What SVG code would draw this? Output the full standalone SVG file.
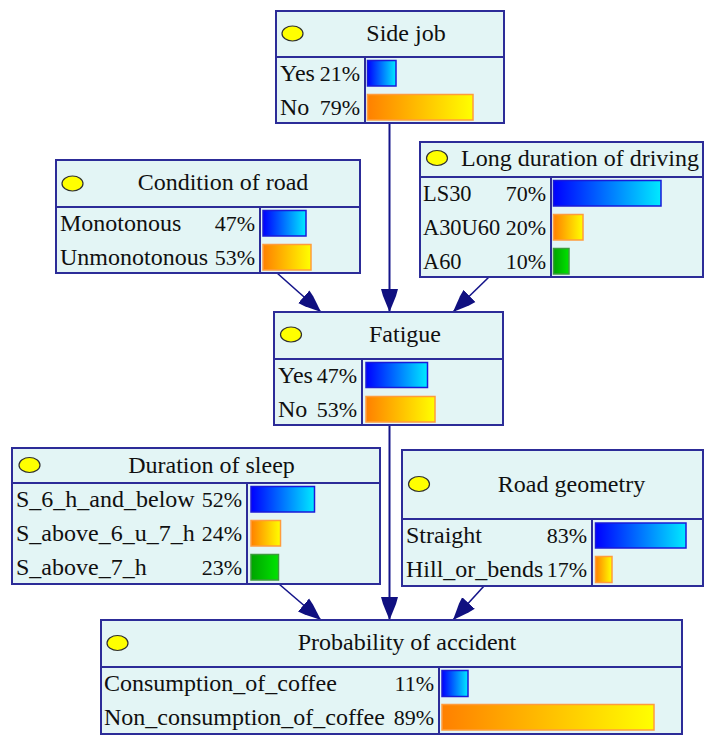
<svg xmlns="http://www.w3.org/2000/svg" width="705" height="735" viewBox="0 0 705 735">
  <defs>
    <linearGradient id="gBlue" x1="0" y1="0" x2="1" y2="0">
      <stop offset="0" stop-color="#0000ff"/>
      <stop offset="1" stop-color="#00eaff"/>
    </linearGradient>
    <linearGradient id="gOrange" x1="0" y1="0" x2="1" y2="0">
      <stop offset="0" stop-color="#ff8000"/>
      <stop offset="1" stop-color="#ffff00"/>
    </linearGradient>
    <linearGradient id="gGreen" x1="0" y1="0" x2="1" y2="0">
      <stop offset="0" stop-color="#00a400"/>
      <stop offset="1" stop-color="#00e400"/>
    </linearGradient>
    <marker id="arrow" markerUnits="userSpaceOnUse" markerWidth="24" markerHeight="18" refX="23" refY="8.5" orient="auto" viewBox="0 0 24 17">
      <path d="M0,0 L7,2 L23,8.5 L7,15 L0,17 Z" fill="#101080"/>
    </marker>
    <style>
      .box { fill: #e3f5f5; stroke: #2c2c98; stroke-width: 2; }
      .sep { stroke: #2c2c98; stroke-width: 2; fill: none; }
      .dot { fill: #ffff00; stroke: #303030; stroke-width: 1.2; }
      text { font-family: "Liberation Serif", "Times New Roman", serif; font-size: 24px; fill: #101010; }
      .title { text-anchor: middle; }
      .pct { text-anchor: end; font-size: 22px; }
      .num { font-size: 22.4px; }
      .blue { fill: url(#gBlue); stroke: #1a1ad8; stroke-width: 1.5; }
      .orange { fill: url(#gOrange); stroke: #ff9c3c; stroke-width: 1.5; }
      .green { fill: url(#gGreen); stroke: #3c9c3c; stroke-width: 1.5; }
      .edge { stroke: #14148a; stroke-width: 1.6; fill: none; marker-end: url(#arrow); }
      .edge.v { stroke-width: 2; }
    </style>
  </defs>

  <!-- connectors -->
  <g id="connectors">
    <line class="edge v" x1="389.5" y1="123" x2="389.5" y2="312"/>
    <line class="edge" x1="277" y1="273" x2="321" y2="312"/>
    <line class="edge" x1="489" y1="277" x2="453" y2="312"/>
    <line class="edge v" x1="389.5" y1="425" x2="389.5" y2="620"/>
    <line class="edge" x1="279" y1="584" x2="321" y2="620"/>
    <line class="edge" x1="484" y1="586" x2="453" y2="620"/>
  </g>

  <!-- Side job -->
  <g id="side-job">
    <rect class="box" x="276" y="11" width="228" height="112"/>
    <line class="sep" x1="276" y1="57" x2="504" y2="57"/>
    <line class="sep" x1="365" y1="57" x2="365" y2="123"/>
    <ellipse class="dot" cx="292.5" cy="33.5" rx="10.5" ry="7.5"/>
    <text class="title" x="406" y="41">Side job</text>
    <text x="280" y="81">Yes</text><text class="pct" x="360" y="81">21%</text>
    <text x="280" y="115">No</text><text class="pct" x="360" y="115">79%</text>
    <rect class="blue" x="367.5" y="60.5" width="28.5" height="25.5"/>
    <rect class="orange" x="367.5" y="94.5" width="105.5" height="25.5"/>
  </g>

  <!-- Condition of road -->
  <g id="condition-of-road">
    <rect class="box" x="56" y="160" width="304" height="113"/>
    <line class="sep" x1="56" y1="207" x2="360" y2="207"/>
    <line class="sep" x1="260" y1="207" x2="260" y2="273"/>
    <ellipse class="dot" cx="72.5" cy="183.5" rx="10.5" ry="7.5"/>
    <text class="title" x="223" y="190">Condition of road</text>
    <text x="60" y="231">Monotonous</text><text class="pct" x="255" y="231">47%</text>
    <text x="60" y="265">Unmonotonous</text><text class="pct" x="255" y="265">53%</text>
    <rect class="blue" x="263" y="210.5" width="43" height="25.5"/>
    <rect class="orange" x="263" y="244.5" width="48" height="25.5"/>
  </g>

  <!-- Long duration of driving -->
  <g id="long-duration-of-driving">
    <rect class="box" x="420" y="142" width="283" height="135"/>
    <line class="sep" x1="420" y1="177" x2="703" y2="177"/>
    <line class="sep" x1="551" y1="177" x2="551" y2="277"/>
    <ellipse class="dot" cx="437" cy="158" rx="10.5" ry="7.5"/>
    <text class="title" x="580" y="166">Long duration of driving</text>
    <text class="num" x="423" y="201">LS30</text><text class="pct" x="546" y="201">70%</text>
    <text class="num" x="423" y="235">A30U60</text><text class="pct" x="546" y="235">20%</text>
    <text class="num" x="423" y="269">A60</text><text class="pct" x="546" y="269">10%</text>
    <rect class="blue" x="553.5" y="180.5" width="107.5" height="25.5"/>
    <rect class="orange" x="553.5" y="214.5" width="29.5" height="25.5"/>
    <rect class="green" x="553.5" y="248.5" width="15.5" height="25.5"/>
  </g>

  <!-- Fatigue -->
  <g id="fatigue">
    <rect class="box" x="274" y="312" width="229" height="113"/>
    <line class="sep" x1="274" y1="359" x2="503" y2="359"/>
    <line class="sep" x1="362" y1="359" x2="362" y2="425"/>
    <ellipse class="dot" cx="291" cy="334.5" rx="10.5" ry="7.5"/>
    <text class="title" x="405" y="342">Fatigue</text>
    <text x="278" y="383">Yes</text><text class="pct" x="357" y="383">47%</text>
    <text x="278" y="417">No</text><text class="pct" x="357" y="417">53%</text>
    <rect class="blue" x="366" y="362.5" width="61.5" height="25"/>
    <rect class="orange" x="366" y="396.5" width="69" height="25.5"/>
  </g>

  <!-- Duration of sleep -->
  <g id="duration-of-sleep">
    <rect class="box" x="12" y="448" width="368" height="136"/>
    <line class="sep" x1="12" y1="483" x2="380" y2="483"/>
    <line class="sep" x1="247" y1="483" x2="247" y2="584"/>
    <ellipse class="dot" cx="29.5" cy="465" rx="10.5" ry="7.5"/>
    <text class="title" x="211.5" y="473">Duration of sleep</text>
    <text x="16" y="507">S_6_h_and_below</text><text class="pct" x="242" y="507">52%</text>
    <text x="16" y="541">S_above_6_u_7_h</text><text class="pct" x="242" y="541">24%</text>
    <text x="16" y="575">S_above_7_h</text><text class="pct" x="242" y="575">23%</text>
    <rect class="blue" x="251" y="486.5" width="63.5" height="25.5"/>
    <rect class="orange" x="251" y="520.5" width="29.5" height="25.5"/>
    <rect class="green" x="251" y="554.5" width="27.5" height="25.5"/>
  </g>

  <!-- Road geometry -->
  <g id="road-geometry">
    <rect class="box" x="402" y="450" width="301" height="136"/>
    <line class="sep" x1="402" y1="519" x2="703" y2="519"/>
    <line class="sep" x1="592" y1="519" x2="592" y2="586"/>
    <ellipse class="dot" cx="419" cy="484" rx="10.5" ry="7.5"/>
    <text class="title" x="571.5" y="492">Road geometry</text>
    <text x="406" y="543">Straight</text><text class="pct" x="587" y="543">83%</text>
    <text x="406" y="577">Hill_or_bends</text><text class="pct" x="587" y="577">17%</text>
    <rect class="blue" x="595.5" y="523" width="90.5" height="25"/>
    <rect class="orange" x="595.5" y="556.5" width="16.5" height="26"/>
  </g>

  <!-- Probability of accident -->
  <g id="probability-of-accident">
    <rect class="box" x="101" y="620" width="581" height="114"/>
    <line class="sep" x1="101" y1="667" x2="682" y2="667"/>
    <line class="sep" x1="439" y1="667" x2="439" y2="734"/>
    <ellipse class="dot" cx="117.5" cy="643" rx="10.5" ry="7.5"/>
    <text class="title" x="407" y="650">Probability of accident</text>
    <text x="104" y="691">Consumption_of_coffee</text><text class="pct" x="434" y="691">11%</text>
    <text x="104" y="725">Non_consumption_of_coffee</text><text class="pct" x="434" y="725">89%</text>
    <rect class="blue" x="442" y="670.5" width="26" height="26"/>
    <rect class="orange" x="442" y="704.5" width="212" height="25.5"/>
  </g>
</svg>
